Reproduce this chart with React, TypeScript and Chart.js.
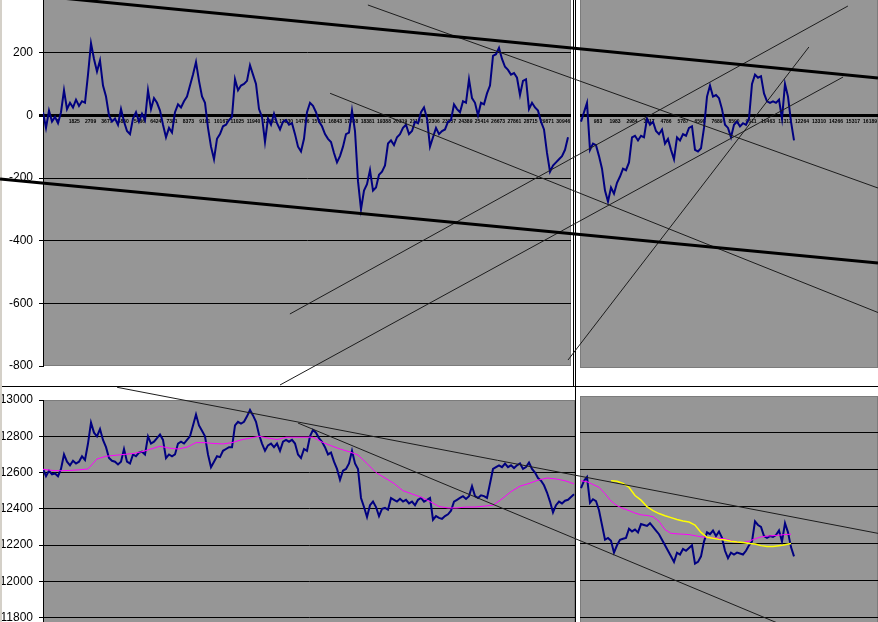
import React, { useEffect, useRef } from 'react';
import { Chart, registerables } from 'chart.js';

Chart.register(...registerables);

// ---------- DATA ----------
// Oscillator, left part (one value per sample)
const tlOsc = [
  10, -40, 15, -20, -5, -25, 10, 80, 20, 40, 25, 50, 30, 45, 40, 130, 230, 180, 140, 175,
  95, 60, 0, -20, -10, -30, 20, -20, -50, -60, -10, 10, -20, 5, -15, 80, 20, 55, 40, 15,
  -30, -70, -40, -55, 10, 35, 25, 45, 60, 95, 130, 170, 110, 60, 40, -40, -100, -140, -75, -60,
  -35, -30, -15, -5, 115, 80, 95, 100, 110, 160, 130, 100, 20, -5, -85, -10, -30, 5, -25, -45,
  -20, -15, -30, -25, -60, -100, -115, -75, 10, 40, 30, 10, -20, -35, -60, -75, -85, -120, -150, -130,
  -100, -60, -55, 15, -50, -210, -300, -240, -220, -175, -240, -230, -190, -180, -160, -90, -80, -95, -70, -60,
  -40, -30, -60, -50, -20, -25, 10, 25, -10, -100, -70, -40, -60, -50, -45, -20, -15, 35, 20, 10,
  45, 40, 115, 55, 40, 0, 40, 35, 70, 95, 190, 195, 215, 180, 155, 145, 130, 135, 120, 65,
  110, 115, 20, 40, 25, 15, -20, -45, -120, -180, -160, -150, -140, -130, -110, -70,
];
// Oscillator, right part
const trOsc = [
  -20, 10, 40, -110, -90, -95, -130, -170, -240, -275, -230, -250, -215, -195, -170, -175, -150, -70, -65, -80,
  -65, -70, -10, -30, -20, -50, -60, -45, -90, -75, -110, -140, -70, -80, -60, -65, -40, -35, -110, -115,
  -105, -40, 60, 95, 60, 65, 55, 20, -30, -40, -70, -30, -20, -35, -25, -30, -10, 100, 130, 120,
  125, 70, 45, 40, 45, 40, 50, -10, 100, 60, -20, -80,
];
// Price, left part
const blPrice = [
  12620, 12580, 12610, 12590, 12595, 12580, 12620, 12700, 12660, 12640, 12665, 12650, 12660, 12690, 12670, 12760, 12875, 12820, 12800, 12840,
  12780, 12740, 12680, 12665, 12660, 12645, 12660, 12730, 12660, 12650, 12700, 12690, 12710, 12715, 12700, 12800, 12760, 12770, 12790, 12810,
  12780, 12680, 12700, 12690, 12700, 12760, 12770, 12760, 12780, 12800, 12860, 12920, 12860, 12830, 12800, 12700, 12630, 12660, 12690, 12685,
  12720, 12730, 12740, 12740, 12860, 12880, 12870, 12880, 12910, 12945, 12915, 12880, 12810, 12760, 12720, 12750, 12760, 12740, 12760, 12720,
  12770, 12780, 12770, 12780, 12760, 12700, 12680, 12730, 12720, 12800, 12835, 12820, 12790, 12770, 12740, 12700, 12710, 12660, 12620, 12560,
  12610, 12620, 12650, 12720, 12650, 12620, 12460, 12410, 12355, 12420, 12440, 12410, 12360, 12400, 12405, 12395, 12460, 12450, 12440, 12455,
  12440, 12450, 12430, 12440, 12420, 12450, 12460, 12440, 12450, 12460, 12340, 12360, 12350, 12345, 12360, 12370, 12390, 12440, 12450, 12460,
  12470, 12455, 12470, 12525, 12470, 12460, 12475, 12470, 12460, 12540, 12620, 12630, 12640, 12630, 12650, 12630, 12640, 12625, 12640, 12650,
  12620, 12630, 12655, 12620, 12600, 12570, 12555, 12530, 12490, 12440, 12380, 12420, 12440, 12430, 12445, 12450, 12465, 12480,
];
// Moving average, left part (one value every 3 samples)
const blAvg = [
  12618, 12612, 12610, 12612, 12615, 12620, 12675, 12690, 12695, 12700, 12705, 12715, 12730, 12745, 12735, 12730, 12740, 12765, 12765, 12760,
  12758, 12765, 12780, 12790, 12800, 12790, 12782, 12795, 12795, 12795, 12795, 12768, 12748, 12730, 12715, 12697, 12650, 12600, 12570, 12540,
  12500, 12482, 12465, 12440, 12413, 12405, 12405, 12410, 12410, 12415, 12420, 12455, 12495, 12525, 12540, 12558, 12570, 12565, 12555, 12538,
];
// Price, right part
const brPrice = [
  12500, 12540, 12560, 12420, 12440, 12430, 12380, 12300, 12220, 12230, 12215, 12150, 12190, 12220, 12225, 12230, 12280, 12265, 12275, 12260,
  12305, 12300, 12295, 12310, 12290, 12270, 12250, 12220, 12190, 12160, 12130, 12100, 12150, 12140, 12170, 12160, 12175, 12190, 12090, 12100,
  12130, 12210, 12260, 12250, 12270, 12240, 12265, 12230, 12160, 12120, 12150, 12140, 12150, 12145, 12140, 12160, 12190, 12210, 12320, 12300,
  12290, 12240, 12230, 12240, 12235, 12245, 12270, 12210, 12310, 12260, 12180, 12130,
];
// Moving averages, right part (one value every 2 samples)
const brAvg = [
  12540, 12535, 12520, 12505, 12470, 12430, 12405, 12390, 12378, 12365, 12355, 12352, 12345, 12320, 12275, 12255, 12252, 12250, 12248, 12242,
  12236, 12233, 12230, 12228, 12225, 12215, 12205, 12205, 12212, 12225, 12235, 12240, 12242, 12245, 12248, 12250,
];
const brAvgSlow: (number | null)[] = [
  null, null, null, null, null, 12540, 12537, 12525, 12505, 12460, 12435, 12400, 12378, 12362, 12350, 12340, 12330, 12322, 12316, 12300,
  12260, 12233, 12228, 12222, 12218, 12212, 12208, 12205, 12200, 12197, 12188, 12183, 12183, 12188, 12193, 12200,
];

// Category tick labels on the zero line
const tlTickLabels = [
  '1', '1825', '2709', '3677', '4850', '5466', '6424', '7381', '8373', '9191', '10167', '11025', '11940', '12953', '13830', '14796',
  '15761', '16843', '17488', '18381', '19388', '20319', '21170', '22306', '23357', '24389', '25414', '26673', '27861', '28715', '29871', '30946',
];
const trTickLabels = [
  '983', '1983', '2984', '3817', '4786', '5787', '6598', '7689', '8590', '9611', '10463', '11313', '12264', '13310', '14266', '15317', '16189',
];

// Trend lines: [sampleIndex0, value0, sampleIndex1, value1]
const oscTrendThick = [
  [-14.33, 393.6, 278.33, 119.1],
  [-14.33, -203.2, 278.33, -471.3],
];
const oscTrendThin = [
  [108.3, 352.1, 278.33, -231.9],
  [95.7, 70.3, 278.33, -629.3],
  [82.3, -634.0, 268.3, 348.9],
  [79.0, -860.6, 266.7, 122.3],
  [175.0, -780.9, 255.3, 218.1],
];
const priceTrend = [
  [24.7, 13070, 278.33, 12265],
  [85.0, 12873, 245.7, 11765],
];

// ---------- STYLE ----------
const FONT = "'Liberation Sans', Arial, sans-serif";
const GREY = '#969696';
const NAVY = '#000080';

const plotBg = {
  id: 'plotBg',
  beforeDraw(chart: any) {
    const { ctx, chartArea: a } = chart;
    ctx.save();
    ctx.fillStyle = GREY;
    ctx.fillRect(a.left, a.top, a.right - a.left, a.bottom - a.top);
    ctx.strokeStyle = '#7c7c7c';
    ctx.lineWidth = 1;
    ctx.strokeRect(a.left + 0.5, a.top + 0.5, a.right - a.left - 1, a.bottom - a.top - 1);
    ctx.restore();
  },
};

function series(vals: (number | null)[], stride: number, color: string, width: number, order: number) {
  return {
    type: 'line',
    data: vals.map((v, i) => ({ x: i * stride, y: v })),
    borderColor: color,
    borderWidth: width,
    pointRadius: 0,
    tension: 0,
    fill: false,
    order,
  };
}

type PanelOpts = {
  datasets: any[];
  xMin: number;
  xMax: number;
  yMin: number;
  yMax: number;
  gridLo: number;
  gridHi: number;
  showY: boolean;
  padTop: number;
  padBottom: number;
  tickPos?: number[];
  tickLabels?: string[];
};

function panelConfig(o: PanelOpts): any {
  const x: any = o.tickPos
    ? {
        type: 'linear',
        min: o.xMin,
        max: o.xMax,
        position: { y: 0 },
        grid: { display: false, drawTicks: false },
        border: { display: true, color: '#000', width: 3 },
        afterBuildTicks: (s: any) => {
          s.ticks = o.tickPos!.map((v) => ({ value: v }));
        },
        afterFit: (s: any) => {
          s.paddingLeft = 0;
          s.paddingRight = 0;
          s.paddingTop = 0;
          s.paddingBottom = 0;
        },
        ticks: {
          autoSkip: false,
          maxRotation: 0,
          minRotation: 0,
          padding: 3,
          color: '#000',
          font: { family: FONT, size: 5, weight: 'bold' },
          callback: (_v: any, i: number) => (o.tickLabels ? o.tickLabels[i] : '') ?? '',
        },
      }
    : { type: 'linear', min: o.xMin, max: o.xMax, display: false };
  return {
    type: 'line',
    data: { datasets: o.datasets },
    plugins: [plotBg],
    options: {
      responsive: false,
      maintainAspectRatio: false,
      animation: false,
      events: [],
      layout: { padding: { top: o.padTop, left: 0, right: 0, bottom: o.padBottom }, autoPadding: false },
      plugins: { legend: { display: false }, tooltip: { enabled: false } },
      scales: {
        x,
        y: {
          type: 'linear',
          min: o.yMin,
          max: o.yMax,
          afterFit: (s: any) => {
            s.width = o.showY ? 43 : 0;
            s.paddingTop = 0;
            s.paddingBottom = 0;
            s.paddingLeft = 0;
            s.paddingRight = 0;
          },
          border: { display: o.showY, color: '#000', width: 1 },
          grid: {
            color: (c: any) => {
              const v = c.tick ? c.tick.value : undefined;
              return v !== undefined && v > o.gridLo && v < o.gridHi && Math.abs(v % 200) < 1e-6 ? '#000' : 'rgba(0,0,0,0)';
            },
            lineWidth: (c: any) => (c.tick && c.tick.value === 0 ? 3 : 1),
            drawTicks: o.showY,
            tickLength: 4,
            tickColor: '#000',
          },
          ticks: {
            display: o.showY,
            stepSize: 200,
            padding: 6,
            color: '#000',
            font: { family: FONT, size: 12 },
            callback: (v: any) => String(v),
          },
        },
      },
    },
  };
}

function trendSet(seg: number[], axis: string, width: number, color: string) {
  return {
    type: 'line',
    data: [
      { x: seg[0], y: seg[1] },
      { x: seg[2], y: seg[3] },
    ],
    yAxisID: axis,
    borderColor: color,
    borderWidth: width,
    pointRadius: 0,
    tension: 0,
    fill: false,
    clip: false,
  };
}

export default function App() {
  const tlRef = useRef<HTMLCanvasElement>(null);
  const trRef = useRef<HTMLCanvasElement>(null);
  const blRef = useRef<HTMLCanvasElement>(null);
  const brRef = useRef<HTMLCanvasElement>(null);
  const ovRef = useRef<HTMLCanvasElement>(null);

  useEffect(() => {
    const charts: Chart[] = [];
    charts.push(
      new Chart(
        tlRef.current!,
        panelConfig({
          datasets: [series(tlOsc, 1, NAVY, 2, 1)],
          xMin: 0,
          xMax: 176,
          yMin: -800,
          yMax: 400,
          gridLo: -800,
          gridHi: 400,
          showY: true,
          padTop: 0,
          padBottom: 10,
          tickPos: tlTickLabels.map((_, k) => 5 + k * 5.433),
          tickLabels: tlTickLabels,
        })
      )
    );
    charts.push(
      new Chart(
        trRef.current!,
        panelConfig({
          datasets: [series(trOsc, 1, NAVY, 2, 1)],
          xMin: -0.333,
          xMax: 99,
          yMin: -806,
          yMax: 400,
          gridLo: -800,
          gridHi: 400,
          showY: false,
          padTop: 0,
          padBottom: 0,
          tickPos: trTickLabels.map((_, k) => 5.667 + k * 5.667),
          tickLabels: trTickLabels,
        })
      )
    );
    charts.push(
      new Chart(
        blRef.current!,
        panelConfig({
          datasets: [series(blPrice, 1, NAVY, 2, 3), series(blAvg, 3, '#ff00ff', 1, 2)],
          xMin: 0,
          xMax: 177.33,
          yMin: 11600,
          yMax: 13000,
          gridLo: 11600,
          gridHi: 13000,
          showY: true,
          padTop: 12,
          padBottom: 0,
        })
      )
    );
    charts.push(
      new Chart(
        brRef.current!,
        panelConfig({
          datasets: [
            series(brPrice, 1, NAVY, 2, 3),
            series(brAvg, 2, '#ff00ff', 1, 2),
            series(brAvgSlow, 2, '#ffff00', 1.5, 1),
          ],
          xMin: -0.333,
          xMax: 99,
          yMin: 11600,
          yMax: 13000,
          gridLo: 11600,
          gridHi: 13000,
          showY: false,
          padTop: 0,
          padBottom: 0,
        })
      )
    );
    charts.push(
      new Chart(ovRef.current!, {
        type: 'line',
        data: {
          datasets: [
            ...oscTrendThick.map((s) => trendSet(s, 'y', 3, '#000')),
            ...oscTrendThin.map((s) => trendSet(s, 'y', 1, '#1c1c1c')),
            ...priceTrend.map((s) => trendSet(s, 'y2', 1, '#1c1c1c')),
          ] as any,
        },
        options: {
          responsive: false,
          maintainAspectRatio: false,
          animation: false,
          events: [],
          layout: { padding: 0, autoPadding: false } as any,
          plugins: { legend: { display: false }, tooltip: { enabled: false } },
          scales: {
            x: { type: 'linear', display: false, min: -14.333, max: 278.333 },
            y: { type: 'linear', display: false, min: -1617.0, max: 368.1 },
            y2: { type: 'linear', display: false, min: 11776.4, max: 15204.7 },
          },
        },
      } as any)
    );
    return () => charts.forEach((c) => c.destroy());
  }, []);

  const abs = (l: number, t: number, w: number, h: number, extra: any = {}) => ({
    position: 'absolute' as const,
    left: l,
    top: t,
    width: w,
    height: h,
    ...extra,
  });

  return (
    <div style={{ position: 'absolute', left: 0, top: 0, width: 878, height: 622, overflow: 'hidden', background: '#fff' }}>
      <canvas ref={tlRef} width={571} height={386} style={abs(0, -10, 571, 386)} />
      <canvas ref={trRef} width={298} height={378} style={abs(580, -10, 298, 378)} />
      <canvas ref={blRef} width={575} height={266} style={abs(0, 388, 575, 266)} />
      <canvas ref={brRef} width={298} height={258} style={abs(580, 396, 298, 258)} />
      <div style={abs(0, 386, 878, 1, { background: '#000' })} />
      <div style={abs(573, 0, 1, 386, { background: '#000' })} />
      <div style={abs(575, 0, 1, 622, { background: '#000' })} />
      <div style={abs(0, 0, 2, 622, { background: '#d4d0c8' })} />
      <canvas ref={ovRef} width={878} height={622} style={abs(0, 0, 878, 622, { pointerEvents: 'none' })} />
    </div>
  );
}
